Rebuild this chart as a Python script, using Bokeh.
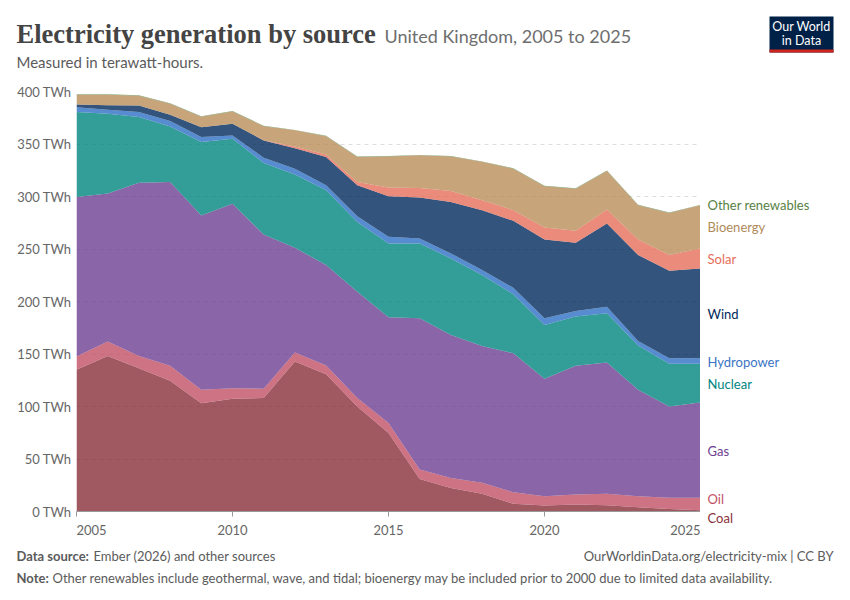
from bokeh.plotting import figure
from bokeh.layouts import column, row
from bokeh.models import ColumnDataSource, Range1d, FixedTicker, PrintfTickFormatter, Label, BoxAnnotation
from bokeh.embed import file_html
from bokeh.resources import INLINE

years = list(range(2005, 2026))
# values in TWh
coal = [135.0, 148.0, 136.5, 124.5, 103.2, 107.4, 108.0, 142.8, 130.8, 100.0, 74.7,
        31.0, 22.5, 16.8, 7.3, 5.7, 6.7, 6.0, 4.1, 2.5, 1.2]
oil = [12.6, 13.8, 11.5, 14.2, 12.8, 10.1, 8.9, 8.6, 8.2, 8.0, 9.6,
       8.9, 9.5, 10.5, 11.0, 8.9, 9.5, 10.8, 10.5, 10.5, 11.8]
gas = [152.0, 141.0, 165.0, 175.1, 166.0, 175.7, 146.9, 99.8, 95.7, 101.3, 100.7,
       144.1, 136.2, 130.4, 132.5, 111.8, 122.5, 125.1, 101.4, 87.0, 90.8]
nuclear = [80.8, 76.0, 62.6, 52.9, 69.9, 61.8, 68.1, 69.8, 71.3, 66.5, 70.3,
           71.3, 72.8, 67.5, 56.2, 51.3, 46.9, 46.9, 42.0, 40.6, 36.8]
hydro = [4.6, 3.8, 4.8, 5.1, 4.7, 3.2, 5.1, 5.5, 4.7, 5.4, 6.3,
         4.7, 4.8, 4.7, 6.0, 6.3, 5.4, 6.2, 4.5, 5.4, 5.4]
wind = [2.6, 4.4, 6.3, 6.0, 9.4, 11.1, 16.4, 19.5, 26.9, 29.5, 38.6,
        39.0, 49.0, 57.1, 63.8, 75.0, 64.9, 79.2, 81.7, 83.3, 85.5]
solar = [0.0, 0.0, 0.0, 0.0, 0.0, 0.0, 0.2, 1.7, 2.4, 3.1, 8.3,
         9.2, 10.5, 9.4, 10.2, 11.5, 11.4, 13.4, 14.8, 14.9, 19.0]
bioenergy = [9.4, 10.0, 9.3, 10.5, 10.0, 11.7, 13.4, 15.3, 17.5, 23.8, 29.7,
             31.0, 32.9, 36.6, 39.5, 39.3, 40.2, 36.7, 32.7, 40.2, 41.2]
other = [0.4, 0.4, 0.4, 0.4, 0.4, 0.4, 0.4, 0.4, 0.4, 0.4, 0.4,
         0.4, 0.4, 0.4, 0.4, 0.4, 0.4, 0.4, 0.4, 0.4, 0.4]

names = ["Coal", "Oil", "Gas", "Nuclear", "Hydropower", "Wind", "Solar", "Bioenergy", "Other renewables"]
series = [coal, oil, gas, nuclear, hydro, wind, solar, bioenergy, other]
colors = ["#883039", "#C15065", "#6D3E91", "#00847E", "#2E6FC4", "#00295B", "#E56E5A", "#B98D58", "#578145"]
label_colors = ["#883039", "#C15065", "#6D3E91", "#00847E", "#3A75C4", "#00295B", "#E56E5A", "#B08A5A", "#578145"]
y_ticks = [0, 50, 100, 150, 200, 250, 300, 350, 400]
x_ticks = [2005, 2010, 2015, 2020, 2025]

data = {"year": years}
for n, s in zip(names, series):
    data[n] = s
src = ColumnDataSource(data)

# ---- geometry (page pixels)
TOTAL_W = 848
HEAD_H = 81
PLOT_LEFT, PLOT_RIGHT = 76, 700
FRAME_TOP, FRAME_BOTTOM = 91, 512
MAIN_BORDER_TOP = FRAME_TOP - HEAD_H
MAIN_BORDER_BOTTOM = 28
MAIN_BORDER_RIGHT = 0
MAIN_W = PLOT_RIGHT + MAIN_BORDER_RIGHT
MAIN_H = MAIN_BORDER_TOP + (FRAME_BOTTOM - FRAME_TOP) + MAIN_BORDER_BOTTOM
SIDE_W = TOTAL_W - MAIN_W
FOOT_H = 56
Y0, Y1 = 0, 400


def blank(w, h, xr, yr):
    f = figure(width=w, height=h, output_backend="svg", toolbar_location=None,
               x_range=xr, y_range=yr, x_axis_location=None, y_axis_location=None,
               min_border=0, min_border_left=0, min_border_right=0, min_border_top=0, min_border_bottom=0)
    f.outline_line_color = None
    f.grid.visible = False
    f.background_fill_color = "white"
    f.border_fill_color = "white"
    f.frame_align = False
    return f


def lab(f, x, y, t, size, color, font="Lato", style="normal", align="left", baseline="middle"):
    f.add_layout(Label(x=x, y=y, text=t, text_font=font, text_font_size=size, text_color=color,
                       text_font_style=style, text_align=align, text_baseline=baseline))


# ---- header
head = blank(TOTAL_W, HEAD_H, Range1d(0, TOTAL_W), Range1d(HEAD_H, 0))
lab(head, 16, 33, "Electricity generation by source", "26.5px", "#444444", font="Liberation Serif", style="bold")
lab(head, 384, 35, "United Kingdom, 2005 to 2025", "18px", "#6e6e6e")
lab(head, 16, 61, "Measured in terawatt-hours.", "15px", "#5b5b5b")
head.add_layout(BoxAnnotation(left=769, right=833, top=16, bottom=52, fill_color="#002147",
                              fill_alpha=1.0, line_color=None))
head.add_layout(BoxAnnotation(left=769, right=833, top=49, bottom=52, fill_color="#CE261E",
                              fill_alpha=1.0, line_color=None))
lab(head, 801, 26, "Our World", "12.5px", "white", align="center")
lab(head, 801, 40, "in Data", "12.5px", "white", align="center")

# ---- main chart
p = figure(width=MAIN_W, height=MAIN_H, output_backend="svg", toolbar_location=None,
           x_range=Range1d(years[0], years[-1]), y_range=Range1d(Y0, Y1),
           min_border_left=PLOT_LEFT, min_border_right=MAIN_BORDER_RIGHT,
           min_border_top=MAIN_BORDER_TOP, min_border_bottom=MAIN_BORDER_BOTTOM)
p.outline_line_color = None
p.background_fill_color = "white"
p.border_fill_color = "white"

p.varea_stack(stackers=names, x="year", fill_color=colors, fill_alpha=0.8, source=src)

FS = "\u2007" * 4
p.xaxis.ticker = FixedTicker(ticks=x_ticks)
p.xaxis.major_label_overrides = {x_ticks[0]: FS + str(x_ticks[0])}
p.xaxis.axis_line_color = "#999999"
p.xaxis.major_tick_line_color = "#999999"
p.xaxis.major_tick_out = 5
p.xaxis.major_tick_in = 0
p.xaxis.minor_tick_line_color = None
p.xaxis.major_label_text_font = "Lato"
p.xaxis.major_label_text_font_size = "13px"
p.xaxis.major_label_text_color = "#666666"
p.xaxis.major_label_standoff = 5

p.yaxis.ticker = FixedTicker(ticks=y_ticks)
p.yaxis.formatter = PrintfTickFormatter(format="%d TWh")
p.yaxis.axis_line_color = None
p.yaxis.major_tick_line_color = None
p.yaxis.major_tick_out = 0
p.yaxis.major_tick_in = 0
p.yaxis.minor_tick_line_color = None
p.yaxis.minor_tick_out = 0
p.yaxis.major_label_text_font = "Lato"
p.yaxis.major_label_text_font_size = "13px"
p.yaxis.major_label_text_color = "#666666"
p.yaxis.major_label_standoff = 5

p.xgrid.grid_line_color = None
p.ygrid.grid_line_color = "#dddddd"
p.ygrid.grid_line_dash = "4 4"
p.ygrid.ticker = FixedTicker(ticks=y_ticks[1:])

# ---- side labels (same vertical scale as the main chart)
px_per_unit = (FRAME_BOTTOM - FRAME_TOP) / (Y1 - Y0)
side_top = Y1 + MAIN_BORDER_TOP / px_per_unit
side_bottom = Y0 - MAIN_BORDER_BOTTOM / px_per_unit
side = blank(SIDE_W, MAIN_H, Range1d(0, SIDE_W), Range1d(side_bottom, side_top))

mids = []
acc = 0.0
for s in series:
    mids.append(acc + s[-1] / 2.0)
    acc += s[-1]
pos = mids[:]
gap = 17.5
for _ in range(200):
    moved = False
    for i in range(len(pos) - 1):
        d = pos[i + 1] - pos[i]
        if d < gap - 1e-6:
            shift = (gap - d) / 2.0
            pos[i] -= shift
            pos[i + 1] += shift
            moved = True
    if not moved:
        break
for n, yv, c in zip(names, pos, label_colors):
    lab(side, 7, yv, n, "13px", c)

# ---- footer
foot = blank(TOTAL_W, FOOT_H, Range1d(0, TOTAL_W), Range1d(FOOT_H, 0))
top_of_foot = HEAD_H + MAIN_H
lab(foot, 16, 555 - top_of_foot, "Data source:", "13px", "#5b5b5b", style="bold")
lab(foot, 93, 555 - top_of_foot, "Ember (2026) and other sources", "13px", "#5b5b5b")
lab(foot, 833, 555 - top_of_foot, "OurWorldinData.org/electricity-mix | CC BY", "13px", "#5b5b5b", align="right")
lab(foot, 16, 577 - top_of_foot, "Note:", "13px", "#5b5b5b", style="bold")
lab(foot, 52, 577 - top_of_foot,
    "Other renewables include geothermal, wave, and tidal; bioenergy may be included prior to 2000 due to limited data availability.",
    "13px", "#5b5b5b")

layout = column(head, row(p, side), foot)
open("out.html", "w").write(file_html(layout, INLINE))
